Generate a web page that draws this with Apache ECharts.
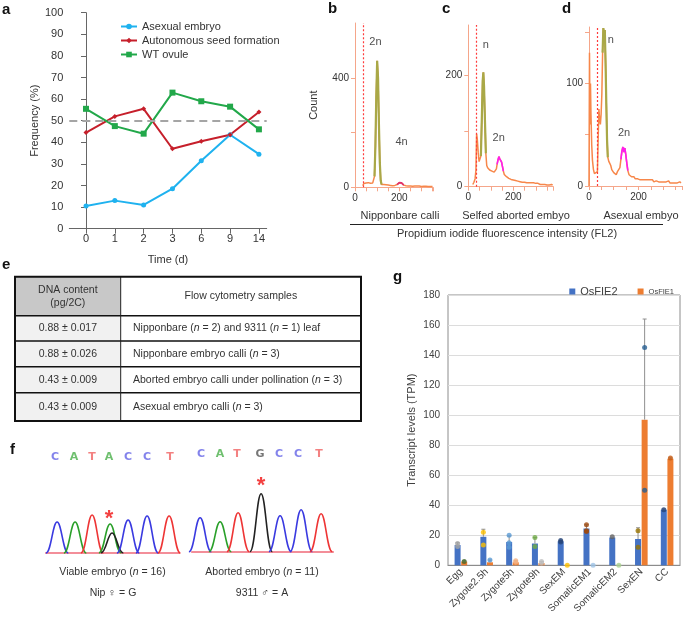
<!DOCTYPE html>
<html><head><meta charset="utf-8">
<script src="https://cdn.jsdelivr.net/npm/echarts@6/dist/echarts.min.js"></script>
<style>html,body{margin:0;padding:0;background:#fff}#c{width:685px;height:621px}</style>
</head><body><div id="c"></div><script>
// ---------- panel a ----------
const timeDays = ['0','1','2','3','6','9','14'];
const asexualEmbryo = [10.5,13,11,18.5,31.5,43.5,34.5];
const autonomousSeed = [44.5,52,55.5,37,40.5,43.5,54];
const wtOvule = [55.5,47.5,44,63,59,56.5,46];
const aRefLevel = 50;

// ---------- panels b, c, d : [FL2, count] ----------
const histB = [[35,6],[40,14],[45,18],[50,16],[55,20],[60,17],[65,19],[70,15],[75,18],[80,16],[85,22],
 [88,40],[92,150],[96,330],[100,462],[104,400],[108,230],[112,90],[116,25],[120,10],
 [125,9],[130,10],[135,8],[140,9],[145,7],[150,8],[155,9],[160,7],[165,8],[170,6],[175,8],[180,7],[185,8],
 [190,10],[195,14],[200,17],[205,15],[210,16],[215,11],[220,8],[225,7],[230,6],[235,7],[240,5],[245,6],
 [250,5],[255,6],[260,4],[265,5],[270,5],[275,4],[280,5],[285,4],[290,5],[295,4],[300,3],[305,4],[310,4],
 [315,3],[320,4],[325,3],[330,3],[335,4],[340,3],[345,3],[350,3]];
const histC = [[20,4],[25,8],[30,14],[34,30],[37,95],[40,85],[44,62],[48,45],[52,42],[56,55],[60,120],[64,190],
 [67,205],[70,180],[74,120],[78,60],[82,38],[86,34],[90,36],[95,30],[100,32],[105,28],[110,30],[115,26],
 [120,28],[125,32],[128,40],[132,48],[136,54],[140,50],[144,53],[148,44],[152,36],[156,28],[160,22],[165,20],
 [170,18],[175,17],[180,15],[185,16],[190,13],[195,14],[200,12],[205,13],[210,11],[215,12],[220,10],[225,11],
 [230,9],[235,10],[240,8],[245,9],[250,8],[255,9],[260,7],[265,8],[270,7],[275,6],[280,7],[285,6],[290,7],
 [295,5],[300,6],[305,5],[310,6],[315,5],[320,4],[325,5],[330,4],[335,5],[340,4],[345,4],[350,3],[355,4],
 [360,3],[365,3],[370,4],[375,3]];
const histD = [[0,0],[2,130],[4,60],[6,100],[8,70],[11,40],[14,25],[18,16],[22,12],[26,13],[30,11],[34,14],
 [37,45],[40,75],[43,65],[46,60],[49,70],[52,90],[55,130],[58,154],[61,148],[64,152],[67,120],[70,80],
 [73,45],[76,28],[80,24],[84,22],[88,20],[92,16],[96,15],[100,13],[105,12],[110,11],[115,14],[120,13],
 [125,18],[129,26],[133,34],[137,38],[141,33],[145,37],[149,30],[153,22],[157,15],[162,11],[167,10],
 [172,9],[177,8],[182,9],[187,7],[192,8],[197,7],[202,8],[207,6],[212,7],[217,6],[222,7],[227,6],[232,5],
 [237,6],[242,5],[247,6],[252,5],[257,6],[262,4],[267,5],[272,5],[277,6],[282,4],[287,5],[292,4],[297,5],
 [302,4],[307,5],[312,4],[317,4],[322,5],[327,3],[332,4],[337,3],[342,4],[347,3],[352,4],[357,3],[362,3],
 [367,4],[372,3]];
const gate1B = [88,120], gate2B = [190,220], thresholdB = 37;
const gate1C = [56,80],  gate2C = [126,158], thresholdC = 37;
const gate1D = [54,78],  gate2D = [127,157], thresholdD = 35;
const peakLabelsB = ['2n','4n'], peakLabelsC = ['n','2n'], peakLabelsD = ['n','2n'];
const sampleNames = ['Nipponbare calli','Selfed aborted embyo','Asexual embyo'];

// ---------- panel e ----------
const tableHeader = ['DNA content\n(pg/2C)','Flow cytometry samples'];
const dnaContent = ['0.88 ± 0.017','0.88 ± 0.026','0.43 ± 0.009','0.43 ± 0.009'];
const flowSamples = ['Nipponbare ({i|n} = 2) and 9311 ({i|n} = 1) leaf','Nipponbare embryo calli ({i|n} = 3)',
 'Aborted embryo calli under pollination ({i|n} = 3)','Asexual embryo calli ({i|n} = 3)'];

// ---------- panel f ----------
const leftBases = ['C','A','T','A','C','C','T'];
const leftBasePos = [0.47,1.42,2.32,3.17,4.12,5.07,6.22];
const leftPeakBase = ['C','A','T','A','G','C','C','T'];
const leftPeakPos = [0.57,1.47,2.32,3.22,3.32,4.12,5.07,6.17];
const leftPeakHeight = [31,31,38,29,20,33,37,37];
const rightBases = ['C','A','T','G','C','C','T'];
const rightBasePos = [0.47,1.42,2.27,3.42,4.37,5.32,6.37];
const rightPeakBase = ['C','A','T','G','C','C','T'];
const rightPeakPos = [0.42,1.42,2.32,3.47,4.42,5.47,6.47];
const rightPeakHeight = [34,30,39,58,36,42,38];
const leftStar = [3.17,38], rightStar = [3.47,70];
const fCaptions = ['Viable embryo ({i|n} = 16)','Nip ♀ = G','Aborted embryo ({i|n} = 11)','9311 ♂ = A'];

// ---------- panel g ----------
const gCats = ['Egg','Zygote2.5h','Zygote5h','Zygote9h','SexEM','SomaticEM1','SomaticEM2','SexEN','CC'];
const fie2Mean = [13.5,19,15.5,14.5,16,24.5,18.5,17.5,37];
const fie1Mean = [2.5,2,2,1.5,0,0,0,97,71];
const fie2Err = [1.5,5,4,4,0.5,2.5,0,7.5,0.5];
const fie1Err = [0.5,1.5,1,1,0,0,0,67,0.5];
const fie2Reps = [[14.5,12.5],[22,13.5],[20,15,12],[18.5,12.5],[16.5,15.5],[27,23,22.5],[19],[23,12],[37]];
const fie1Reps = [[2.5],[3.5],[3,2],[2.5,1.5],[0],[0],[0],[145,50],[71.5]];

// ================= styles =================
const FONT = 'Liberation Sans, Arial, sans-serif';
const BASECOL = {C:'#3a3ae0', A:'#2aa02a', T:'#ee3535', G:'#222222'};
const LETTERCOL = {C:'#6464e6', A:'#4cb04c', T:'#f06262', G:'#555555'};
const dotColFIE2 = ['#a5a5a5','#ffc000','#5b9bd5','#70ad47','#264478','#9e480e','#636363','#997300','#264478'];
const dotColFIE1 = ['#43682b','#5b9bd5','#f4b183','#bfbfbf','#ffc000','#9dc3e6','#a9d18e','#255e91','#c55a11'];
const ORANGE_AX = '#f5a68a';

function histAxes(gridIndex, xmax, ymax, yint, yLabels, yName){
  const x = {type:'value', gridIndex, min:0, max:xmax, interval:50,
    axisLine:{lineStyle:{color:ORANGE_AX}}, axisTick:{lineStyle:{color:ORANGE_AX}, length:4},
    axisLabel:{fontSize:10, color:'#333', fontFamily:FONT, margin:6, formatter:v=>(v===0||v===200)?String(v):''},
    splitLine:{show:false}};
  const y = {type:'value', gridIndex, min:0, max:ymax, interval:yint,
    axisLine:{show:true, lineStyle:{color:ORANGE_AX}}, axisTick:{show:true, lineStyle:{color:ORANGE_AX}, length:4},
    axisLabel:{fontSize:10, color:'#333', fontFamily:FONT, margin:6, showMaxLabel:false, formatter:v=>yLabels.includes(v)?String(v):''},
    splitLine:{show:false}};
  if (yName){ Object.assign(y,{name:yName, nameLocation:'middle', nameGap:36, nameTextStyle:{fontSize:11, color:'#333', fontFamily:FONT}}); }
  return [x,y];
}
function histSeries(axisIndex, hist, gate1, gate2, thr, pinkColor, labels, lblPos){
  const inGate = (g)=>hist.filter(p=>p[0]>=g[0]&&p[0]<=g[1]);
  return [
    {type:'line', xAxisIndex:axisIndex, yAxisIndex:axisIndex, data:hist, symbol:'none', z:3,
     lineStyle:{color:'#f7874a', width:1.5}, silent:true,
     markLine:{symbol:'none', silent:true, label:{show:false}, lineStyle:{color:'#ff3b3b', type:[2,2], width:1.2},
       data:[{xAxis:thr}]}},
    {type:'line', xAxisIndex:axisIndex, yAxisIndex:axisIndex, data:inGate(gate1), symbol:'none', z:4,
     lineStyle:{color:'#a9a847', width:2.2}, silent:true},
    {type:'line', xAxisIndex:axisIndex, yAxisIndex:axisIndex, data:inGate(gate2), symbol:'none', z:4,
     lineStyle:{color:pinkColor, width:1.6}, silent:true},
    {type:'scatter', xAxisIndex:axisIndex, yAxisIndex:axisIndex, symbolSize:0.01, z:5, silent:true,
     data:lblPos.map((p,i)=>({value:p, label:{show:true, formatter:labels[i], position:'inside', fontSize:11, color:'#222', fontFamily:FONT}}))}
  ];
}

const histAxB = histAxes(1, 352, 600, 200, [0,400], 'Count');
const histAxC = histAxes(2, 378, 290, 100, [0,200]);
const histAxD = histAxes(3, 376, 155, 50, [0,100]);

function chromAxes(gridIndex, xmax){
  return [
    {type:'value', gridIndex, min:0, max:xmax, axisLine:{show:true, lineStyle:{color:'#f06a78', width:1.5}}, axisTick:{show:false}, axisLabel:{show:false}, splitLine:{show:false}},
    {type:'value', gridIndex, min:0, max:100, show:false}
  ];
}
const chromAxL = chromAxes(4, 6.7), chromAxR = chromAxes(5, 7.08);

function peakRender(params, api){
  const p = api.value(0), h = api.value(1), b = api.value(2);
  const w = 0.56;
  const a = api.coord([p-w,0]), t = api.coord([p,h]), e = api.coord([p+w,0]);
  const dx = e[0]-a[0];
  const d = `M${a[0]},${a[1]} C${a[0]+dx*0.24},${a[1]} ${t[0]-dx*0.2},${t[1]} ${t[0]},${t[1]} C${t[0]+dx*0.2},${t[1]} ${e[0]-dx*0.24},${e[1]} ${e[0]},${e[1]}`;
  return {type:'path', shape:{pathData:d}, style:{stroke:BASECOL[['C','A','T','G'][b]], fill:'none', lineWidth:1.6}};
}
const baseIdx = s => ['C','A','T','G'].indexOf(s);
function chromSeries(ai, pos, hgt, base, letters, letterPos, star){
  return [
    {type:'custom', xAxisIndex:ai, yAxisIndex:ai, renderItem:peakRender, encode:{x:0,y:1}, silent:true, z:3,
     data:pos.map((p,i)=>[p,hgt[i],baseIdx(base[i])])},
    {type:'scatter', xAxisIndex:ai, yAxisIndex:ai, symbolSize:0.01, silent:true, z:4,
     data:letterPos.map((p,i)=>({value:[p, ai===4?96.3:97.7], label:{show:true, position:'inside', formatter:letters[i], fontSize:11, fontWeight:'bold', color:LETTERCOL[letters[i]], fontFamily:'DejaVu Sans, sans-serif'}}))},
    {type:'scatter', xAxisIndex:ai, yAxisIndex:ai, symbolSize:0.01, silent:true, z:5,
     data:[{value:star, label:{show:true, position:'inside', formatter:'*', fontSize:22, fontWeight:'bold', color:'#f01010', fontFamily:FONT, offset:[0,4]}}]}
  ];
}

function errRender(offset){
  return function(params, api){
    const i = api.value(0), m = api.value(1), e = api.value(2);
    if (!e) return null;
    const p0 = api.coord([i,m]), p1 = api.coord([i,m+e]);
    const x = p0[0]+offset;
    return {type:'group', children:[
      {type:'line', shape:{x1:x,y1:p0[1],x2:x,y2:p1[1]}, style:{stroke:'#8f8f8f', lineWidth:1}},
      {type:'line', shape:{x1:x-2,y1:p1[1],x2:x+2,y2:p1[1]}, style:{stroke:'#8f8f8f', lineWidth:1}}]};
  };
}
function repDots(reps, cols){
  const out = [];
  reps.forEach((arr,i)=>arr.forEach(v=>out.push({value:[i,v], itemStyle:{color:cols[i]}})));
  return out;
}

// ---------- table graphic ----------
const tblX = [15, 120.7, 361];
const tblY = [276.7, 315.7, 341, 366.7, 392.7, 421];
const tableEls = [];
tableEls.push({type:'rect', shape:{x:tblX[0], y:tblY[0], width:tblX[1]-tblX[0], height:tblY[1]-tblY[0]}, style:{fill:'#c8c8c8'}});
for (let r=1;r<tblY.length-1;r++) tableEls.push({type:'rect', shape:{x:tblX[0], y:tblY[r], width:tblX[1]-tblX[0], height:tblY[r+1]-tblY[r]}, style:{fill:'#f1f1f1'}});
for (let r=1;r<tblY.length-1;r++) tableEls.push({type:'line', shape:{x1:tblX[0],y1:tblY[r],x2:tblX[2],y2:tblY[r]}, style:{stroke:'#111', lineWidth:1.6}});
tableEls.push({type:'line', shape:{x1:tblX[1],y1:tblY[0],x2:tblX[1],y2:tblY[5]}, style:{stroke:'#222', lineWidth:1}});
tableEls.push({type:'rect', shape:{x:tblX[0], y:tblY[0], width:tblX[2]-tblX[0], height:tblY[5]-tblY[0]}, style:{fill:'none', stroke:'#111', lineWidth:2}});
const tfs = 10.5;
tableEls.push({type:'text', x:(tblX[0]+tblX[1])/2, y:(tblY[0]+tblY[1])/2, style:{text:tableHeader[0], align:'center', verticalAlign:'middle', fontSize:tfs, lineHeight:13, fill:'#333', fontFamily:FONT}});
tableEls.push({type:'text', x:(tblX[1]+tblX[2])/2, y:(tblY[0]+tblY[1])/2, style:{text:tableHeader[1], align:'center', verticalAlign:'middle', fontSize:tfs, fill:'#333', fontFamily:FONT}});
dnaContent.forEach((t,i)=>{
  const yc = (tblY[i+1]+tblY[i+2])/2;
  tableEls.push({type:'text', x:(tblX[0]+tblX[1])/2, y:yc, style:{text:t, align:'center', verticalAlign:'middle', fontSize:tfs, fill:'#333', fontFamily:FONT}});
  tableEls.push({type:'text', x:133, y:yc, style:{text:flowSamples[i], align:'left', verticalAlign:'middle', fontSize:tfs, fill:'#333', fontFamily:FONT,
    rich:{i:{fontStyle:'italic', fontSize:tfs, fill:'#333', fontFamily:FONT}}}});
});

// ---------- other text graphics ----------
const panelLabel = (t,x,y)=>({type:'text', x, y, style:{text:t, fontSize:15, fontWeight:'bold', fill:'#111', fontFamily:FONT, verticalAlign:'middle'}});
const txt = (t,x,y,fs)=>({type:'text', x, y, style:{text:t, align:'center', verticalAlign:'middle', fontSize:fs, fill:'#333', fontFamily:FONT, rich:{i:{fontStyle:'italic', fontSize:fs, fill:'#333', fontFamily:FONT}}}});
const graphics = [
  panelLabel('a',2,10), panelLabel('b',328,9), panelLabel('c',442,9), panelLabel('d',562,9),
  panelLabel('e',2,265), panelLabel('f',10,450), panelLabel('g',393,277),
  txt(sampleNames[0],400,216,11), txt(sampleNames[1],516,216,11), txt(sampleNames[2],641,216,11),
  {type:'line', shape:{x1:350,y1:224.5,x2:663,y2:224.5}, style:{stroke:'#222', lineWidth:1}},
  txt('Propidium iodide fluorescence intensity (FL2)',507,233.5,11),
  txt(fCaptions[0],112.5,572,10.5), txt(fCaptions[1],113,593,10.5),
  txt(fCaptions[2],262,572,10.5), txt(fCaptions[3],262,593,10.5),
  ...tableEls
];

const option = {
  animation:false,
  textStyle:{fontFamily:FONT},
  grid:[
    {left:69.3, width:197.4, top:12.7, height:216},
    {left:355, width:78, top:23, height:164.3},
    {left:468.3, width:85, top:25, height:161.7},
    {left:589, width:96, top:27, height:159},
    {left:45.7, width:134, top:453, height:100},
    {left:191.7, width:141.6, top:451.7, height:100},
    {left:448, width:232, top:295, height:270.3, show:true, borderColor:'#8c8c8c', borderWidth:1}
  ],
  legend:[
    {data:['Asexual embryo','Autonomous seed formation','WT ovule'], orient:'vertical', left:115, top:16,
     itemWidth:16, itemHeight:7, itemGap:3, textStyle:{fontSize:11, color:'#333', fontFamily:FONT}},
    {data:[{name:'OsFIE2', textStyle:{fontSize:11, color:'#404040'}},{name:'OsFIE1', textStyle:{fontSize:7.5, color:'#404040'}}],
     right:6, top:281, icon:'rect', itemWidth:6, itemHeight:6, itemGap:20, textStyle:{fontFamily:FONT}}
  ],
  xAxis:[
    {type:'value', gridIndex:0, min:-0.58, max:6.27,
     axisLine:{lineStyle:{color:'#666'}}, axisTick:{customValues:[0,1,2,3,4,5,6], lineStyle:{color:'#666'}},
     axisLabel:{customValues:[0,1,2,3,4,5,6], formatter:v=>timeDays[Math.round(v)], fontSize:11, color:'#333', margin:5},
     splitLine:{show:false}, name:'Time (d)', nameLocation:'middle', nameGap:26, nameTextStyle:{fontSize:11, color:'#333'}},
    histAxB[0], histAxC[0], histAxD[0], chromAxL[0], chromAxR[0],
    {type:'category', gridIndex:6, data:gCats, axisLine:{lineStyle:{color:'#8c8c8c'}}, axisTick:{show:false},
     axisLabel:{rotate:45, fontSize:10, color:'#404040', margin:5, interval:0}}
  ],
  yAxis:[
    {type:'value', gridIndex:0, min:0, max:100, interval:10, axisLine:{show:true, lineStyle:{color:'#666'}},
     axisTick:{show:true, lineStyle:{color:'#666'}}, axisLabel:{fontSize:11, color:'#333', margin:6}, splitLine:{show:false},
     name:'Frequency (%)', nameLocation:'middle', nameGap:29, nameTextStyle:{fontSize:11, color:'#333'}},
    histAxB[1], histAxC[1], histAxD[1], chromAxL[1], chromAxR[1],
    {type:'value', gridIndex:6, min:0, max:180, interval:20, axisLine:{show:false}, axisTick:{show:false},
     axisLabel:{fontSize:10, color:'#404040', margin:8}, splitLine:{lineStyle:{color:'#dcdcdc'}},
     name:'Transcript levels (TPM)', nameLocation:'middle', nameGap:31, nameTextStyle:{fontSize:11, color:'#404040'}}
  ],
  series:[
    {type:'line', name:'Asexual embryo', xAxisIndex:0, yAxisIndex:0, data:asexualEmbryo.map((v,i)=>[i,v]),
     color:'#1fb2ef', symbol:'circle', symbolSize:5, lineStyle:{width:2}, z:4},
    {type:'line', name:'Autonomous seed formation', xAxisIndex:0, yAxisIndex:0, data:autonomousSeed.map((v,i)=>[i,v]),
     color:'#c61f2b', symbol:'diamond', symbolSize:5, lineStyle:{width:2}, z:4},
    {type:'line', name:'WT ovule', xAxisIndex:0, yAxisIndex:0, data:wtOvule.map((v,i)=>[i,v]),
     color:'#22a84a', symbol:'rect', symbolSize:6, lineStyle:{width:2}, z:4,
     markLine:{symbol:'none', silent:true, label:{show:false}, lineStyle:{color:'#a5a5a5', type:[8,5], width:2},
       data:[{yAxis:aRefLevel}]}},
    ...histSeries(1, histB, gate1B, gate2B, thresholdB, '#e0306e', peakLabelsB, [[92,530],[210,165]]),
    ...histSeries(2, histC, gate1C, gate2C, thresholdC, '#ff1cf0', peakLabelsC, [[78,255],[135,87]]),
    ...histSeries(3, histD, gate1D, gate2D, thresholdD, '#ff1cf0', peakLabelsD, [[88,142],[142,52]]),
    ...chromSeries(4, leftPeakPos, leftPeakHeight, leftPeakBase, leftBases, leftBasePos, leftStar),
    ...chromSeries(5, rightPeakPos, rightPeakHeight, rightPeakBase, rightBases, rightBasePos, rightStar),
    {type:'bar', name:'OsFIE2', xAxisIndex:6, yAxisIndex:6, data:fie2Mean, color:'#4472c4', barWidth:6, barGap:'10%', z:2},
    {type:'bar', name:'OsFIE1', xAxisIndex:6, yAxisIndex:6, data:fie1Mean, color:'#ed7d31', barWidth:6, barGap:'10%', z:2},
    {type:'custom', xAxisIndex:6, yAxisIndex:6, renderItem:errRender(-3.3), encode:{x:0,y:1}, silent:true, z:3,
     data:fie2Mean.map((m,i)=>[i,m,fie2Err[i]])},
    {type:'custom', xAxisIndex:6, yAxisIndex:6, renderItem:errRender(3.3), encode:{x:0,y:1}, silent:true, z:3,
     data:fie1Mean.map((m,i)=>[i,m,fie1Err[i]])},
    {type:'scatter', xAxisIndex:6, yAxisIndex:6, data:repDots(fie2Reps, dotColFIE2), symbolSize:5, symbolOffset:[-3.3,0], silent:true, z:4},
    {type:'scatter', xAxisIndex:6, yAxisIndex:6, data:repDots(fie1Reps, dotColFIE1), symbolSize:5, symbolOffset:[3.3,0], silent:true, z:4}
  ],
  graphic:graphics
};
const chart = echarts.init(document.getElementById('c'), null, {renderer:'canvas'});
chart.setOption(option);
</script></body></html>
